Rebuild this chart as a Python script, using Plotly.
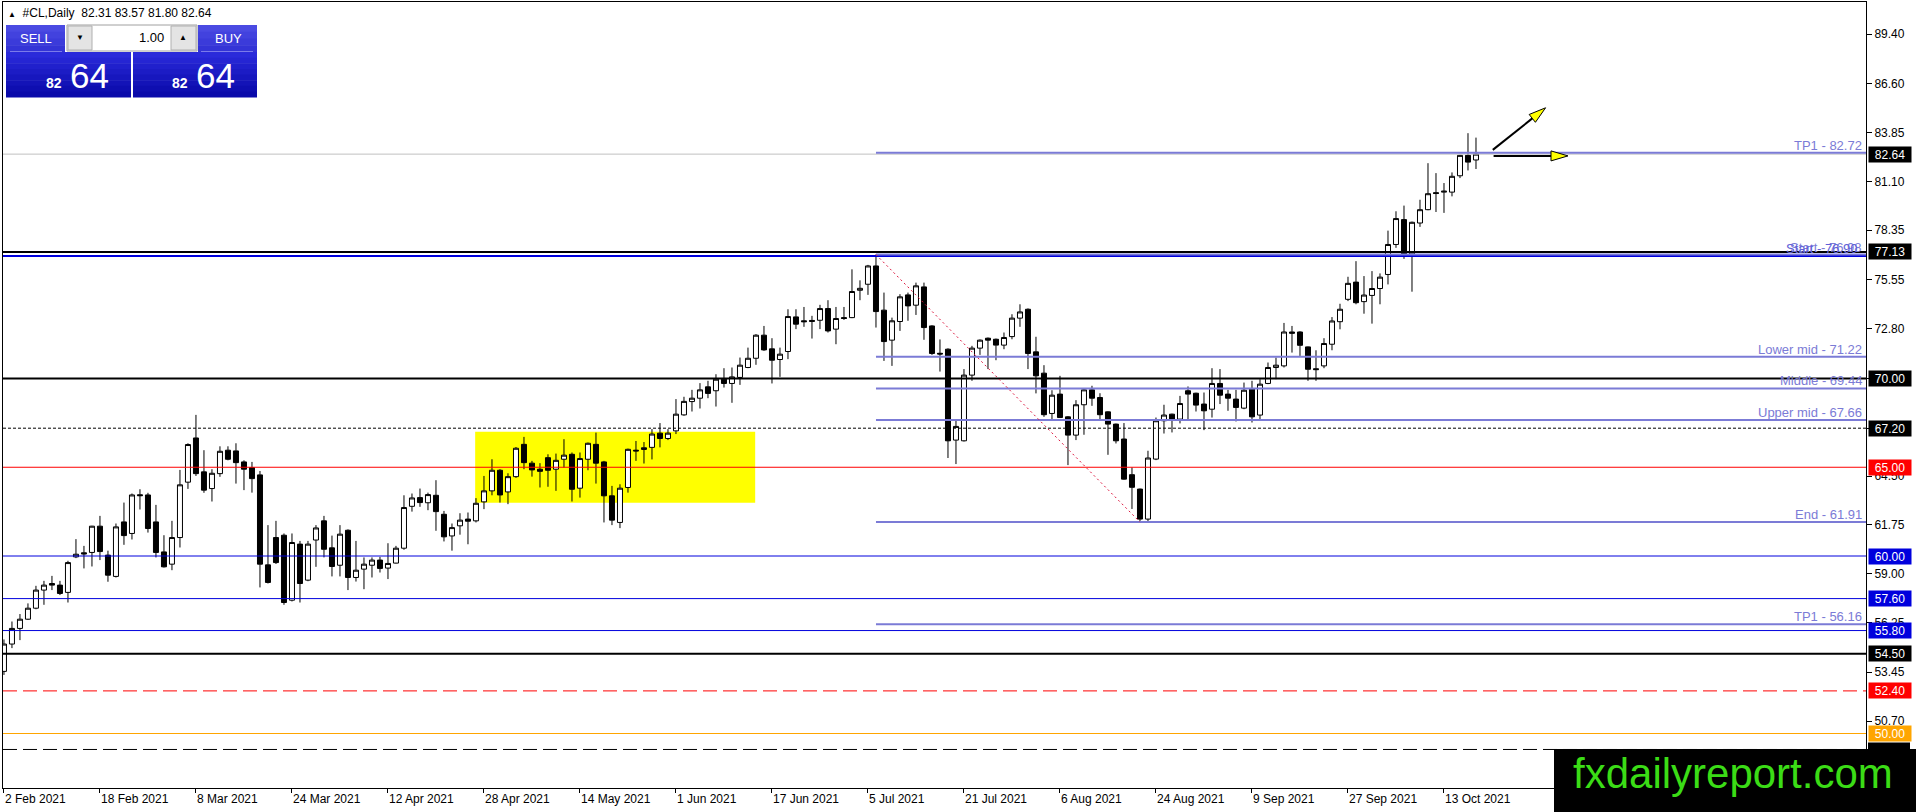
import plotly.graph_objects as go

# ---- data: #CL daily bars, 2 Feb 2021 .. 20 Oct 2021 (x = bar number) ----
OPEN = [53.50, 55.04, 55.92, 56.44, 57.06, 58.08, 58.45, 58.36, 57.95, 59.95,
        60.18, 60.20, 61.68, 60.05, 58.85, 61.92, 61.27, 63.45, 63.44, 61.92,
        60.23, 59.54, 61.04, 64.16, 66.65, 64.74, 63.80, 64.64, 65.96, 65.92,
        65.30, 64.98, 64.57, 59.50, 61.04, 61.17, 57.51, 60.67, 58.64, 60.90,
        61.98, 60.46, 59.48, 61.45, 58.79, 59.26, 59.48, 59.77, 59.32, 59.60,
        60.44, 62.80, 63.29, 63.00, 63.42, 62.35, 61.13, 61.70, 62.08, 61.98,
        63.05, 63.67, 64.83, 63.61, 64.47, 66.29, 65.23, 64.89, 65.54, 64.89,
        65.45, 65.73, 63.82, 65.45, 66.29, 65.30, 63.39, 61.89, 63.86, 65.96,
        66.00, 66.12, 66.92, 66.62, 67.05, 67.95, 68.70, 68.89, 69.53, 69.31,
        69.96, 69.72, 70.06, 70.62, 71.14, 72.44, 71.67, 71.07, 71.52, 73.47,
        73.25, 73.27, 73.28, 73.94, 72.78, 73.43, 73.43, 74.97, 75.31, 76.34,
        73.85, 72.16, 73.21, 74.71, 74.13, 75.16, 72.96, 71.42, 71.65, 66.53,
        66.49, 70.19, 71.71, 72.27, 72.21, 71.88, 72.36, 73.40, 73.90, 71.50,
        70.30, 68.03, 69.12, 67.84, 66.81, 68.52, 69.36, 68.93, 68.12, 67.43,
        66.59, 64.58, 63.77, 62.08, 65.46, 67.62, 67.99, 67.71, 69.31, 69.17,
        68.56, 68.27, 69.72, 69.12, 68.84, 68.33, 69.40, 67.94, 69.72, 70.62,
        70.71, 72.62, 72.62, 71.78, 70.55, 70.71, 71.93, 73.20, 74.46, 75.43,
        74.33, 74.68, 75.07, 75.86, 77.55, 78.95, 77.02, 78.76, 79.51, 80.47,
        80.50, 80.50, 81.42, 82.57, 82.31]
HIGH = [55.30, 56.31, 56.73, 57.33, 58.32, 58.60, 58.88, 58.60, 59.73, 60.95,
        60.57, 61.70, 62.26, 60.30, 61.83, 63.01, 63.52, 63.76, 63.56, 62.88,
        61.17, 61.98, 64.85, 66.35, 67.95, 65.96, 64.89, 66.18, 66.18, 66.35,
        65.39, 65.30, 64.79, 61.74, 61.98, 61.27, 61.27, 60.85, 60.85, 61.74,
        62.26, 61.15, 61.74, 61.50, 60.85, 59.92, 59.92, 59.95, 60.72, 60.57,
        63.42, 63.52, 63.80, 63.57, 64.27, 62.54, 61.83, 62.41, 62.45, 63.26,
        64.51, 65.45, 64.89, 64.66, 66.14, 66.71, 65.36, 65.23, 65.73, 65.77,
        66.58, 65.83, 65.83, 66.39, 66.95, 65.36, 63.95, 64.04, 66.05, 66.48,
        66.42, 67.15, 67.49, 67.15, 68.84, 68.97, 69.36, 69.74, 69.87, 70.24,
        70.58, 70.62, 71.18, 71.74, 72.50, 72.96, 72.27, 71.74, 73.90, 73.90,
        74.03, 73.53, 74.15, 74.41, 74.03, 74.03, 76.15, 75.53, 76.40, 76.98,
        74.84, 73.43, 74.75, 74.84, 75.40, 75.40, 73.00, 72.20, 71.70, 67.62,
        70.53, 71.84, 72.20, 72.31, 72.25, 72.59, 73.62, 74.18, 73.95, 72.35,
        70.75, 69.34, 70.15, 67.88, 68.78, 69.40, 69.59, 69.17, 68.15, 67.46,
        67.49, 64.99, 63.80, 65.93, 67.80, 68.52, 68.02, 69.02, 69.55, 69.20,
        69.21, 70.58, 70.53, 69.36, 69.36, 69.77, 69.87, 69.96, 70.90, 71.18,
        73.13, 72.96, 72.66, 71.80, 71.59, 72.27, 73.46, 74.21, 75.73, 76.61,
        75.77, 76.05, 75.92, 78.33, 79.42, 79.74, 78.84, 80.07, 82.13, 81.57,
        81.01, 81.61, 82.60, 83.82, 83.57]
LOW = [53.30, 54.81, 55.26, 56.40, 57.00, 57.25, 58.08, 57.80, 57.38, 59.88,
       59.30, 59.41, 59.77, 58.55, 58.79, 60.63, 60.93, 62.62, 61.32, 59.92,
       59.35, 59.20, 60.48, 63.78, 64.51, 63.56, 63.07, 64.46, 65.39, 64.08,
       63.71, 63.57, 58.23, 58.45, 59.55, 57.25, 57.44, 57.38, 58.58, 59.39,
       59.92, 58.85, 58.85, 58.08, 58.56, 58.13, 58.79, 59.07, 58.70, 59.58,
       60.35, 62.50, 62.77, 62.58, 61.42, 60.82, 60.30, 61.20, 60.66, 61.89,
       62.64, 63.42, 63.01, 62.92, 64.40, 64.89, 64.47, 63.86, 63.90, 63.67,
       64.98, 63.07, 63.29, 64.83, 64.08, 61.89, 61.74, 61.57, 63.57, 65.36,
       65.21, 65.44, 66.12, 66.53, 66.87, 67.90, 68.14, 68.31, 68.89, 68.42,
       69.49, 68.63, 69.64, 70.58, 70.77, 71.56, 69.72, 70.09, 71.09, 72.78,
       72.91, 72.25, 72.78, 72.59, 71.93, 73.30, 73.40, 74.41, 74.71, 72.87,
       70.99, 70.71, 72.68, 73.25, 73.58, 72.18, 71.33, 70.39, 65.52, 65.18,
       66.45, 69.87, 71.33, 70.53, 71.03, 71.65, 72.21, 72.91, 70.53, 69.16,
       67.84, 67.65, 67.78, 65.12, 66.53, 66.83, 68.46, 67.65, 65.70, 66.34,
       64.30, 62.65, 61.91, 61.95, 65.40, 66.90, 66.96, 67.47, 67.71, 68.14,
       67.09, 67.80, 68.56, 68.18, 67.58, 68.27, 67.52, 67.71, 69.68, 69.96,
       70.62, 71.46, 71.27, 69.87, 69.87, 70.58, 71.59, 72.77, 74.36, 74.18,
       73.65, 73.09, 74.18, 75.30, 77.36, 76.74, 74.89, 78.54, 79.48, 79.38,
       79.33, 80.26, 81.29, 81.72, 81.80]
CLOSE = [55.04, 55.92, 56.44, 57.06, 58.08, 58.36, 58.36, 57.89, 59.63, 60.10,
         60.12, 61.68, 60.25, 58.92, 61.64, 61.15, 63.44, 63.40, 61.55, 60.20,
         59.39, 61.04, 64.01, 66.28, 64.64, 63.71, 64.66, 65.90, 65.45, 65.26,
         64.89, 64.36, 59.54, 58.51, 59.63, 57.38, 60.76, 58.45, 60.67, 61.58,
         60.38, 59.41, 61.23, 58.79, 59.20, 59.54, 59.77, 59.30, 59.58, 60.44,
         62.73, 63.27, 63.01, 63.46, 62.50, 61.08, 61.60, 62.02, 61.96, 62.97,
         63.67, 64.83, 63.44, 64.47, 66.07, 65.26, 64.85, 64.77, 64.83, 65.39,
         65.68, 63.76, 65.49, 66.35, 65.23, 63.39, 62.02, 63.82, 66.01, 65.92,
         66.10, 66.87, 66.62, 66.92, 67.99, 68.71, 68.89, 69.36, 69.16, 69.96,
         69.72, 70.09, 70.75, 71.14, 72.44, 71.61, 71.03, 71.37, 73.49, 73.06,
         73.20, 73.22, 73.94, 72.68, 73.38, 73.38, 74.90, 75.08, 76.34, 73.77,
         72.08, 73.25, 74.60, 74.09, 75.22, 72.87, 71.41, 71.38, 66.49, 67.30,
         70.19, 71.71, 72.16, 72.16, 71.88, 72.31, 73.40, 73.75, 71.41, 70.15,
         67.96, 69.06, 67.80, 66.81, 68.52, 69.36, 68.89, 67.96, 67.43, 66.49,
         64.33, 63.87, 62.08, 65.52, 67.62, 67.94, 67.71, 68.59, 69.12, 68.50,
         68.18, 69.72, 69.06, 68.89, 68.37, 69.34, 67.84, 69.68, 70.62, 70.75,
         72.62, 72.55, 71.87, 70.52, 70.50, 71.97, 73.24, 73.90, 75.36, 74.27,
         74.70, 75.07, 75.71, 77.55, 79.01, 77.02, 78.80, 79.51, 80.41, 80.42,
         80.55, 81.39, 82.57, 82.19, 82.64]

TICK_LABELS = ["2 Feb 2021", "18 Feb 2021", "8 Mar 2021", "24 Mar 2021",
               "12 Apr 2021", "28 Apr 2021", "14 May 2021", "1 Jun 2021",
               "17 Jun 2021", "5 Jul 2021", "21 Jul 2021", "6 Aug 2021",
               "24 Aug 2021", "9 Sep 2021", "27 Sep 2021", "13 Oct 2021"]
TICK_EVERY = 12  # bars between date labels

PRICE_TICKS = [89.40, 86.60, 83.85, 81.10, 78.35, 75.55, 72.80, 70.00,
               67.20, 64.50, 61.75, 59.00, 56.25, 53.45, 50.70]

# horizontal support / resistance lines
LEVEL_PRICES = [77.13, 76.90, 70.00, 67.20, 65.00, 60.00, 57.60, 55.80,
                54.50, 52.40, 50.00, 49.10]
BID = 82.64

# fibonacci tool: anchors (bar, price) and its levels
FIB_START = (109, 76.98)
FIB_END = (142, 61.91)
FIB_NAMES = ["TP1", "Start", "Lower mid", "Middle", "Upper mid", "End", "TP1"]
FIB_PRICES = [82.72, 76.98, 71.22, 69.44, 67.66, 61.91, 56.16]

# yellow consolidation box (bars, prices)
ZONE_BARS = (58.9, 93.9)
ZONE_PRICES = (63.0, 67.0)

# arrows drawn after the last bar: (bar, price) start -> tip
ARROWS = [((186.1, 82.88), (192.7, 85.25)),
          ((186.2, 82.54), (195.5, 82.54))]

HEADER = "#CL,Daily  82.31 83.57 81.80 82.64"

# ---- layout constants (pixels in the 1916x812 page) ----
W, H = 1916, 812
PL, PR, PT, PB = 3, 1866, 2, 788
X_RANGE = [-0.12, 232.75]
Y_RANGE = [46.93, 91.21]
PX_PER_BAR = (PR - PL) / (X_RANGE[1] - X_RANGE[0])
PX_PER_USD = (PB - PT) / (Y_RANGE[1] - Y_RANGE[0])
FONT = "Liberation Sans"
PURPLE = "#7B7BD6"
BLUE = "#0000DD"


def px(x):
    return (x - PL) / (PR - PL)


def py(y):
    return (PB - y) / (PB - PT)


def rect(x0, y0, x1, y1, color, line=None):
    return dict(type="rect", xref="paper", yref="paper",
                x0=px(x0), x1=px(x1), y0=py(y0), y1=py(y1),
                fillcolor=color, line=line or dict(width=0), layer="above")


def text(x, y, s, size=12, color="black", xanchor="center", yanchor="middle", bold=False):
    if bold:
        s = "<b>" + s + "</b>"
    return dict(xref="paper", yref="paper", x=px(x), y=py(y), text=s,
                showarrow=False, xanchor=xanchor, yanchor=yanchor,
                font=dict(family=FONT, size=size, color=color))


fig = go.Figure()

fig.add_trace(go.Candlestick(
    x=list(range(len(OPEN))), open=OPEN, high=HIGH, low=LOW, close=CLOSE,
    increasing=dict(fillcolor="white", line=dict(color="black", width=1)),
    decreasing=dict(fillcolor="black", line=dict(color="black", width=1)),
    whiskerwidth=0, showlegend=False, hoverinfo="skip",
))

shapes = []
annotations = []

# yellow zone behind the candles
shapes.append(dict(type="rect", xref="x", yref="y", x0=ZONE_BARS[0], x1=ZONE_BARS[1],
                   y0=ZONE_PRICES[0], y1=ZONE_PRICES[1], fillcolor="#FFFF00",
                   line=dict(width=0), layer="below"))

# bid line
shapes.append(dict(type="line", xref="paper", yref="y", x0=0, x1=1, y0=BID, y1=BID,
                   line=dict(color="#C0C0C0", width=1), layer="above"))

# horizontal levels
level_style = {
    77.13: ("black", 2, "solid"),
    76.90: (BLUE, 2, "solid"),
    70.00: ("black", 2, "solid"),
    67.20: ("black", 1, "3px,2px"),
    65.00: ("#FF0000", 1, "solid"),
    60.00: (BLUE, 1, "solid"),
    57.60: (BLUE, 1, "solid"),
    55.80: (BLUE, 1, "solid"),
    54.50: ("black", 2, "solid"),
    52.40: ("#FF0000", 1, "14px,6px"),
    50.00: ("#FFA500", 1, "solid"),
    49.10: ("black", 1, "14px,6px"),
}
for p in LEVEL_PRICES:
    c, w, d = level_style[p]
    shapes.append(dict(type="line", xref="paper", yref="y", x0=0, x1=1, y0=p, y1=p,
                       line=dict(color=c, width=w, dash=d), layer="above"))

# fibonacci levels and labels
for name, p in zip(FIB_NAMES, FIB_PRICES):
    shapes.append(dict(type="line", xref="x", yref="y", x0=FIB_START[0], x1=X_RANGE[1],
                       y0=p, y1=p, line=dict(color=PURPLE, width=2), layer="above"))
    annotations.append(dict(xref="paper", yref="y", x=px(PR - 2), y=p,
                            text=f"{name} - {p:.2f}", showarrow=False,
                            xanchor="right", yanchor="bottom", yshift=-2,
                            font=dict(family=FONT, size=13, color=PURPLE)))
# second, overlapping label on the start line
annotations.append(dict(xref="paper", yref="y", x=px(PR - 6), y=LEVEL_PRICES[1],
                        text=f"Start - {LEVEL_PRICES[1]:.2f}", showarrow=False,
                        xanchor="right", yanchor="bottom", yshift=-2,
                        font=dict(family=FONT, size=13, color="#6060D8")))

# fib trend line
shapes.append(dict(type="line", xref="x", yref="y", x0=FIB_START[0], y0=FIB_START[1],
                   x1=FIB_END[0], y1=FIB_END[1],
                   line=dict(color="#DC143C", width=1, dash="2px,3px"), layer="above"))

# arrows: black shaft + yellow head
HEAD_LEN, HEAD_HALF = 17, 5
for (x0, y0), (x1, y1) in ARROWS:
    dxp = (x1 - x0) * PX_PER_BAR
    dyp = (y1 - y0) * PX_PER_USD
    n = (dxp ** 2 + dyp ** 2) ** 0.5
    ux, uy = dxp / n, dyp / n
    bx, by = x1 - ux * HEAD_LEN / PX_PER_BAR, y1 - uy * HEAD_LEN / PX_PER_USD
    shapes.append(dict(type="line", xref="x", yref="y", x0=x0, y0=y0, x1=bx, y1=by,
                       line=dict(color="black", width=2), layer="above"))
    lx, ly = bx - uy * HEAD_HALF / PX_PER_BAR, by + ux * HEAD_HALF / PX_PER_USD
    rx, ry = bx + uy * HEAD_HALF / PX_PER_BAR, by - ux * HEAD_HALF / PX_PER_USD
    shapes.append(dict(type="path", xref="x", yref="y",
                       path=f"M {x1} {y1} L {lx} {ly} L {rx} {ry} Z",
                       fillcolor="#FFFF00", line=dict(color="black", width=1), layer="above"))

# price labels on the right axis
label_colors = [(77.13, "black"), (70.00, "black"), (67.20, "black"), (65.00, "#FF0000"),
                (60.00, BLUE), (57.60, BLUE), (55.80, BLUE), (54.50, "black"),
                (52.40, "#FF0000"), (50.00, "#FFA500"), (BID, "black")]
for p, c in label_colors:
    annotations.append(dict(xref="paper", yref="y", x=px(PR + 2), y=p, text=f"{p:.2f}",
                            showarrow=False, xanchor="left", yanchor="middle",
                            width=40, height=13, borderpad=1, bgcolor=c, align="center",
                            font=dict(family=FONT, size=12, color="white")))
# 49.10 label mostly hidden under the watermark
y49 = PB - (49.10 - Y_RANGE[0]) * PX_PER_USD
shapes.append(rect(PR + 2, y49 - 7, PR + 44, y49 + 7, "black"))

# header line
annotations.append(text(6, 13, "<span style='font-size:8px'>▲</span>  " + HEADER,
                        size=12, xanchor="left"))

# one-click trading panel
def gradient(x0, y0, x1, y1, top, bottom, steps=8):
    t = [int(top[i:i + 2], 16) for i in (1, 3, 5)]
    b = [int(bottom[i:i + 2], 16) for i in (1, 3, 5)]
    h = (y1 - y0) / steps
    out = []
    for k in range(steps):
        f = k / (steps - 1)
        col = "#%02x%02x%02x" % tuple(int(t[i] + (b[i] - t[i]) * f) for i in range(3))
        out.append(rect(x0, y0 + k * h, x1, y0 + (k + 1) * h + 0.5, col))
    return out

shapes += gradient(6, 25, 65, 52, "#4A4AE2", "#3434D6", 4)
shapes += gradient(198, 25, 257, 52, "#4A4AE2", "#3434D6", 4)
shapes += gradient(6, 52, 131, 97, "#2A2ADA", "#0A0AAA")
shapes += gradient(133, 52, 257, 97, "#2A2ADA", "#0A0AAA")
shapes.append(rect(10, 51, 62, 52, "#7A7AEA"))
shapes.append(rect(201, 51, 253, 52, "#7A7AEA"))
shapes.append(rect(67, 25, 197, 51, "white", dict(color="#A0A0A0", width=1)))
shapes.append(rect(68, 26, 92, 50, "#E4E4E4", dict(color="#B0B0B0", width=1)))
shapes.append(rect(171, 26, 196, 50, "#E4E4E4", dict(color="#B0B0B0", width=1)))
annotations += [
    text(36, 39, "SELL", 13, "white"),
    text(228, 39, "BUY", 13, "white"),
    text(80, 38, "▼", 8),
    text(183, 38, "▲", 8),
    text(166, 38, "1.00", 13, xanchor="right"),
    text(64, 83, "82", 14, "white", xanchor="right", bold=True),
    text(68, 75, "64", 35, "white", xanchor="left"),
    text(190, 83, "82", 14, "white", xanchor="right", bold=True),
    text(194, 75, "64", 35, "white", xanchor="left"),
]

# watermark
shapes.append(rect(1554, 749, W + 2, H + 2, "black"))
annotations.append(text(1733, 773, "fxdailyreport.com", 42, "#3BDC16"))

fig.update_layout(
    width=W, height=H,
    margin=dict(l=PL, r=W - PR, t=PT, b=H - PB),
    paper_bgcolor="white", plot_bgcolor="white",
    boxgap=0.375, boxgroupgap=0,
    showlegend=False,
    shapes=shapes, annotations=annotations,
    font=dict(family=FONT, size=12, color="black"),
    xaxis=dict(
        range=X_RANGE, rangeslider=dict(visible=False),
        tickvals=[i * TICK_EVERY for i in range(len(TICK_LABELS))],
        ticktext=TICK_LABELS, ticks="outside", ticklen=4, tickcolor="black",
        ticklabelposition="outside right",
        showgrid=False, zeroline=False, showline=True, linecolor="black",
        linewidth=1, mirror=True, tickfont=dict(family=FONT, size=12),
    ),
    yaxis=dict(
        range=Y_RANGE, side="right", tickvals=PRICE_TICKS,
        ticktext=[f"{v:.2f}" for v in PRICE_TICKS],
        ticks="outside", ticklen=5, tickcolor="black",
        showgrid=False, zeroline=False, showline=True, linecolor="black",
        linewidth=1, mirror=True, tickfont=dict(family=FONT, size=12),
    ),
)

# page body has a default margin; drop it so the figure sits at the window corner
fig.write_html("out.html", config={"displayModeBar": False},
               post_script="document.body.style.margin='0';")
